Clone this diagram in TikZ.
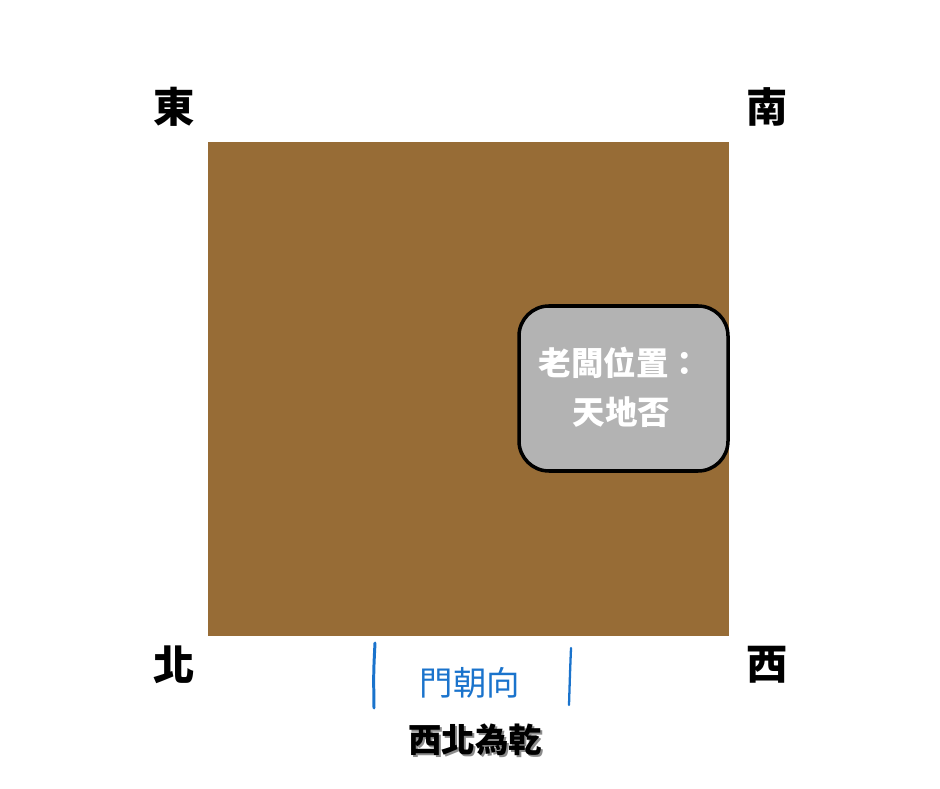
\documentclass[tikz,border=0pt]{standalone}
\usepackage{fontspec}
\newfontfamily\cjk{Noto Sans CJK TC}
\definecolor{floorbrown}{HTML}{976C36}
\definecolor{bossgray}{HTML}{B3B3B3}
\definecolor{doorblue}{HTML}{1A73CC}
\tikzset{corner/.style={font={\cjk\bfseries\fontsize{23.5}{23.5}\selectfont}, inner sep=0pt}}
\begin{document}
\begin{tikzpicture}

\useasboundingbox (0,0) rectangle (18.8,15.76);

\fill [floorbrown] (4.16,3.04) rectangle (14.58,12.92);

\node [draw=black, line width=2pt, fill=bossgray, rounded corners=0.6cm,
minimum width=4.18cm, minimum height=3.30cm, inner sep=0pt] (boss)
 at (12.47, 7.99) {};

\node [text=white, align=center, font={\cjk\bfseries\fontsize{18.5}{28}\selectfont}] (boss-text)
 at (12.40, 8.02) {老闆位置：\\\hspace*{0.05cm}天地否};


\node [corner] (east) at (3.48, 13.62) {東};
\node [corner] (south) at (15.34, 13.62) {南};
\node [corner] (north) at (3.48, 2.46) {北};
\node [corner] (west) at (15.34, 2.46) {西};


\draw [doorblue, line width=1.7pt, line cap=round] (7.50, 2.90) .. controls (7.47, 2.30) .. (7.48, 1.60);
\draw [doorblue, line width=1.3pt, line cap=round] (11.42, 2.80) .. controls (11.40, 2.30) .. (11.38, 1.66);

\node [text=doorblue, font={\cjk\fontsize{19}{19}\selectfont}] (door)
 at (9.40, 2.10) {門朝向};

\node [text=black!45, font={\cjk\bfseries\fontsize{19}{19}\selectfont}] (dir-shadow)
 at (9.54, 0.92) {西北為乾};
\node [text=black, font={\cjk\bfseries\fontsize{19}{19}\selectfont}] (dir)
 at (9.50, 0.96) {西北為乾};

\end{tikzpicture}
\end{document}
